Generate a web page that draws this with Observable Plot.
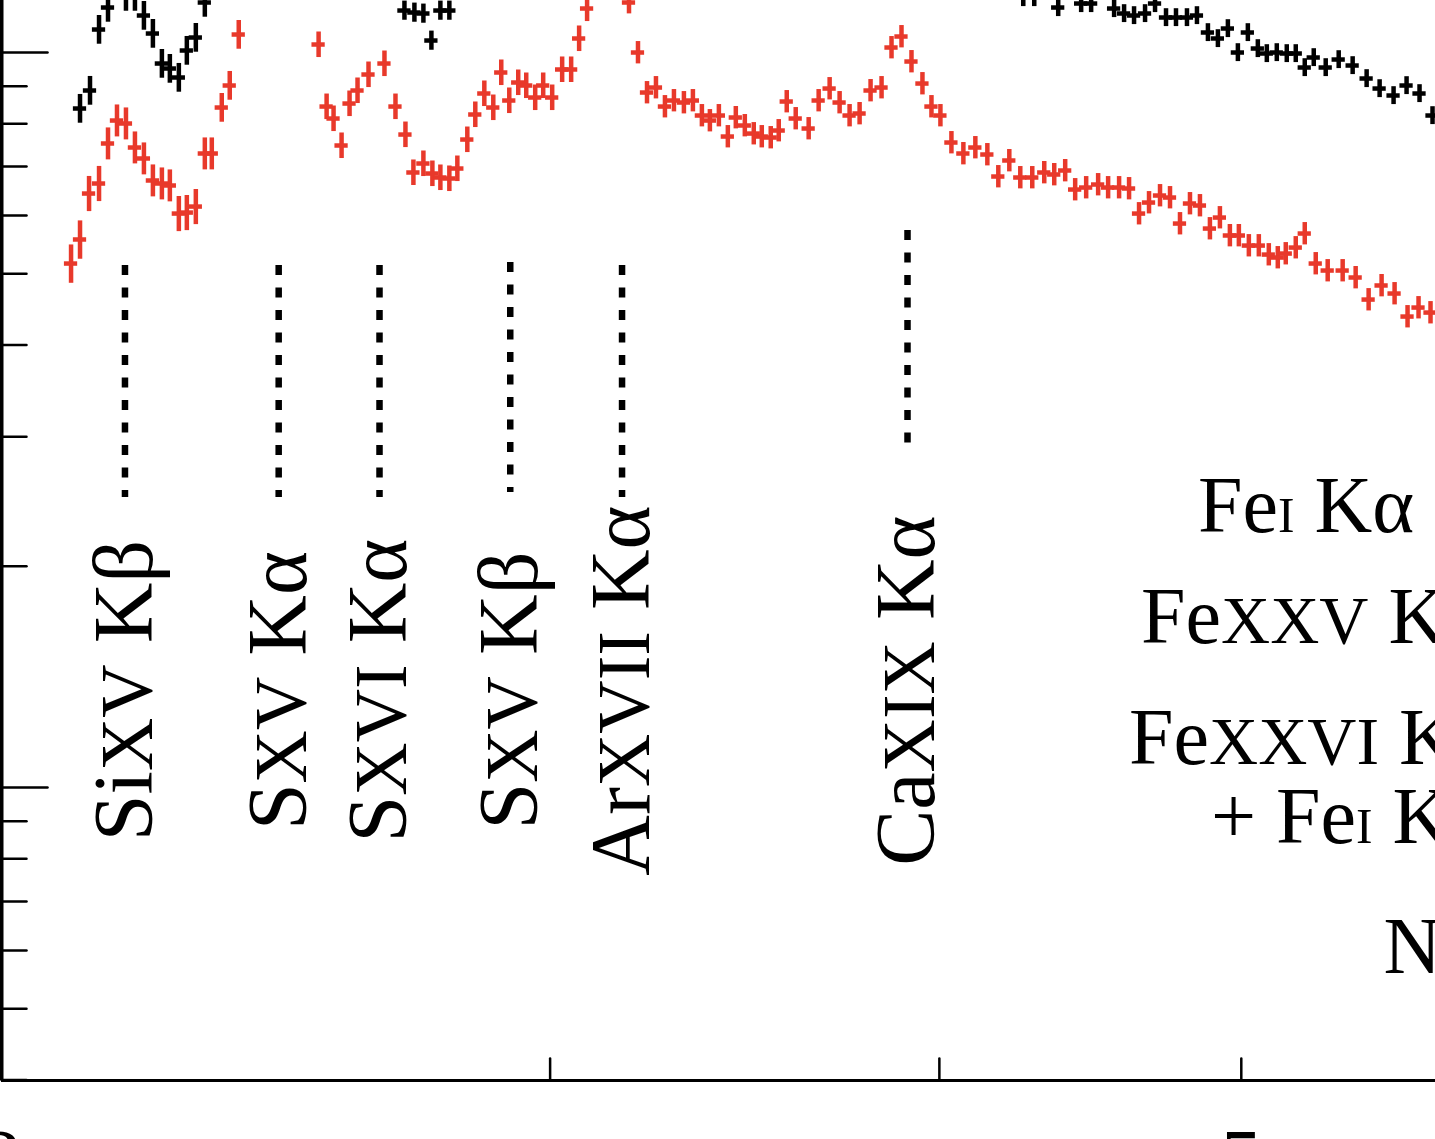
<!DOCTYPE html>
<html><head><meta charset="utf-8">
<script src="https://cdn.jsdelivr.net/npm/d3@7"></script>
<script src="https://cdn.jsdelivr.net/npm/@observablehq/plot@0.6"></script>
<style>
html,body{margin:0;padding:0;background:#fff;overflow:hidden}
#chart svg{display:block}
</style></head><body><div id="chart"></div>
<script>
// ---- data: energy (keV) and flux (arbitrary units, log axis) ----
const redEnergy=[2.1055,2.1195,2.1337,2.1495,2.1638,2.1782,2.1927,2.2073,2.2220,2.2368,
2.2517,2.2650,2.2801,2.2936,2.3089,2.3243,2.3363,2.3536,2.3675,2.3833,
2.5282,2.5432,2.5563,2.5715,2.5867,2.6020,2.6232,2.6543,2.6760,2.6958,
2.7117,2.7318,2.7500,2.7663,2.7847,2.8012,2.8219,2.8386,2.8576,2.8766,
2.8936,2.9108,2.9301,2.9475,2.9671,2.9847,3.0046,3.0268,3.0470,3.0650,
3.0831,3.1801,3.2013,3.2227,3.2441,3.2657,3.2875,3.3118,3.3339,3.3561,
3.3760,3.3985,3.4211,3.4413,3.4643,3.4873,3.5080,3.5313,3.5522,3.5733,
3.5971,3.6317,3.6586,3.6884,3.7157,3.7432,3.7710,3.8017,3.8327,3.8610,
3.8896,3.9184,3.9503,3.9767,4.0031,4.0358,4.0716,4.1078,4.1444,4.1781,
4.2122,4.2465,4.2843,4.3224,4.3544,4.3898,4.4223,4.4584,4.4980,4.5313,
4.5682,4.6020,4.6361,4.6704,4.7085,4.7434,4.7785,4.8139,4.8495,4.8854,
4.9216,4.9580,4.9910,5.0280,5.0652,5.1027,5.1367,5.1671,5.2054,5.2401,
5.2828,5.3297,5.3890,5.4410,5.4934,5.5463,5.5998,5.6537,5.6998,5.7505];
const redFlux=[5.163,5.567,6.429,6.634,7.520,8.081,8.006,7.426,7.175,6.697,
6.634,6.593,6.038,6.057,6.172,7.288,7.288,8.417,9.018,10.580,
10.254,8.443,8.132,7.473,8.523,8.878,9.334,9.661,8.443,7.734,
6.867,7.063,6.845,6.760,6.739,6.953,7.614,8.235,8.795,8.417,
9.393,8.604,9.103,9.018,8.685,9.018,8.685,9.482,9.482,10.449,
11.478,11.696,10.000,8.822,8.961,8.443,8.604,8.550,8.604,8.209,
8.081,8.209,7.686,8.158,7.956,7.758,7.686,7.662,7.832,8.577,
8.132,7.881,8.604,8.933,8.550,8.209,8.261,8.878,8.961,10.158,
10.514,9.722,9.074,8.443,8.209,7.543,7.288,7.426,7.265,6.781,
7.130,6.760,6.760,6.867,6.824,6.910,6.510,6.551,6.613,6.551,
6.551,6.531,6.038,6.250,6.389,6.349,5.852,6.231,6.192,5.761,
5.963,5.637,5.637,5.462,5.462,5.310,5.261,5.327,5.428,5.672,
5.163,5.051,5.051,4.942,4.612,4.820,4.700,4.373,4.498,4.428];
const redErr=[0.06,0.06,0.055,0.055,0.05,0.05,0.05,0.05,0.05,0.05,
0.05,0.05,0.055,0.055,0.055,0.05,0.05,0.045,0.045,0.045,
0.04,0.04,0.04,0.04,0.04,0.04,0.04,0.04,0.04,0.04,
0.04,0.04,0.04,0.04,0.04,0.04,0.04,0.04,0.04,0.04,
0.04,0.04,0.04,0.04,0.04,0.04,0.04,0.04,0.04,0.04,
0.04,0.035,0.035,0.035,0.035,0.035,0.035,0.035,0.035,0.035,
0.035,0.035,0.035,0.035,0.035,0.035,0.035,0.035,0.035,0.035,
0.035,0.035,0.035,0.035,0.035,0.035,0.035,0.035,0.035,0.035,
0.035,0.035,0.035,0.035,0.035,0.035,0.035,0.035,0.035,0.035,
0.035,0.035,0.035,0.035,0.035,0.035,0.035,0.035,0.035,0.035,
0.035,0.035,0.035,0.035,0.035,0.035,0.035,0.035,0.035,0.035,
0.035,0.035,0.035,0.035,0.035,0.035,0.035,0.035,0.035,0.035,
0.035,0.035,0.035,0.035,0.035,0.035,0.035,0.035,0.035,0.035];

const blackEnergy=[2.1195,2.1352,2.1495,2.1638,2.1927,2.2073,2.2220,2.2368,2.2517,2.2650,2.2801,2.2936,2.3089,2.3243,
2.6938,2.7137,2.7318,2.7480,2.7663,2.7847,
4.2559,4.2906,4.3672,4.4419,4.4748,4.5514,4.5851,4.6190,4.6567,4.6912,
4.7294,4.7644,4.8032,4.8388,4.8782,4.9143,4.9507,4.9874,5.0243,5.0615,
5.0952,5.1329,5.1709,5.2054,5.2401,5.2750,5.3219,5.3732,5.4289,5.4853,
5.5382,5.5956,5.6496,5.7040,5.7590];
const blackFlux=[8.391,8.878,10.747,11.514,11.917,11.917,11.229,10.613,9.661,9.511,9.247,10.063,10.481,11.696,
11.406,11.335,11.300,10.383,11.406,11.406,
11.880,11.880,11.514,11.659,11.659,11.478,11.300,11.229,11.300,11.659,
11.159,11.159,11.159,11.229,10.647,10.449,10.781,10.000,10.647,10.126,
9.969,10.000,9.969,9.969,9.541,9.845,9.541,9.783,9.601,9.218,
8.933,8.740,9.018,8.795,8.209];
const blackErr=[0.045,0.045,0.045,0.045,0.045,0.045,0.045,0.045,0.045,0.045,0.045,0.045,0.045,0.045,
0.03,0.03,0.03,0.03,0.03,0.03,
0.028,0.028,0.028,0.028,0.028,0.028,0.028,0.028,0.028,0.028,
0.028,0.028,0.028,0.028,0.028,0.028,0.028,0.028,0.028,0.028,
0.028,0.028,0.028,0.028,0.028,0.028,0.028,0.028,0.028,0.028,
0.028,0.028,0.028,0.028,0.028];
const binHalfWidth=0.0049; // fractional half-width of each energy bin

// emission-line markers
const lineEnergy=[2.1911,2.4547,2.6446,2.9129,3.1638,3.9069];
const lineTop=[5.131,5.131,5.131,5.179,5.131,5.727];
const lineBottom=[2.481,2.481,2.481,2.520,2.481,2.919];
const lineElement=["Si","S","S","S","Ar","Ca"];
const lineStage=["XV","XV","XVI","XV","XVII","XIX"];
const lineTransition=["Kβ","Kα","Kα","Kβ","Kα","Kα"];
const lineLabelFlux=1.355;

// iron / nickel labels (their lines lie beyond the right edge)
const feLabelEnergy=[4.8423,4.6430,4.6020,4.8890,5.5545];
const feLabelFlux=[2.2233,1.5703,1.0781,0.8417,0.5602];
const feLabelPrefix=["","","","+ ",""];
const feLabelElement=["Fe","Fe","Fe","Fe","Ni"];
const feLabelStage=["I","XXV","XXVI","I","I"];
const feLabelTransition=["Kα","Kα","Kα","Kβ","Kα"];

// axes
const xDomain=[2,5.7717];
const yDomain=[0.3994,11.77];
const xTicks=[3,4,5];
const xTickLabelValues=[2,5];
const xTickLabels=["2","5"];
const yMajorTicks=[1,10];
const yMinorTicks=[0.4,0.5,0.6,0.7,0.8,0.9,2,3,4,5,6,7,8,9];

// ---- build tables ----
const red=redEnergy.map((E,i)=>({E,f:redFlux[i],e:redErr[i]}));
const black=blackEnergy.map((E,i)=>({E,f:blackFlux[i],e:blackErr[i]}));
const lines=lineEnergy.map((E,i)=>({E,top:lineTop[i],bottom:lineBottom[i],
  pre:"",el:lineElement[i],stage:lineStage[i],tr:lineTransition[i],scale:0.88,
  text:lineElement[i]+lineStage[i]+" "+lineTransition[i],y:lineLabelFlux}));
const feLabels=feLabelEnergy.map((E,i)=>({E,f:feLabelFlux[i],pre:feLabelPrefix[i],
  el:feLabelElement[i],stage:feLabelStage[i],tr:feLabelTransition[i],
  scale:feLabelStage[i]==="I"?0.62:0.85,
  text:feLabelPrefix[i]+feLabelElement[i]+feLabelStage[i]+" "+feLabelTransition[i]}));
const xLabels=xTickLabelValues.map((x,i)=>({x,label:xTickLabels[i]}));

const RED="#e8392b";
const tickShape={draw(ctx,l){ctx.moveTo(0,0);ctx.lineTo(0,-l);}};

function crosses(data,color){
  return [
    Plot.ruleX(data,{x:"E",y1:d=>d.f*(1-d.e),y2:d=>d.f*(1+d.e),stroke:color,strokeWidth:4.5,clip:true}),
    Plot.ruleY(data,{y:"f",x1:d=>d.E*(1-binHalfWidth),x2:d=>d.E*(1+binHalfWidth),stroke:color,strokeWidth:4.5,clip:true})
  ];
}

const chart=Plot.plot({
  width:1435,height:1139,
  marginLeft:1,marginRight:0,marginTop:0,marginBottom:59,
  style:{fontFamily:"'Liberation Serif','Times New Roman',serif",background:"white",overflow:"hidden"},
  x:{type:"log",domain:xDomain,axis:null},
  y:{type:"log",domain:yDomain,axis:null},
  marks:[
    ...crosses(red,RED),
    ...crosses(black,"black"),
    Plot.ruleX(lines,{x:"E",y1:"top",y2:"bottom",stroke:"black",strokeWidth:6.5,strokeDasharray:"10,12.5"}),
    Plot.text(lines,{x:"E",y:"y",text:"text",rotate:-90,fontSize:84,textAnchor:"middle",lineAnchor:"middle",fill:"black"}),
    Plot.text(feLabels,{x:"E",y:"f",text:"text",fontSize:80,textAnchor:"start",lineAnchor:"bottom",fill:"black"}),
    // axes
    Plot.vector(yMinorTicks,{y:d=>d,frameAnchor:"left",length:25,rotate:90,anchor:"start",shape:tickShape,stroke:"black",strokeWidth:2.5}),
    Plot.vector(yMajorTicks,{y:d=>d,frameAnchor:"left",length:46,rotate:90,anchor:"start",shape:tickShape,stroke:"black",strokeWidth:2.5}),
    Plot.vector(xTicks,{x:d=>d,frameAnchor:"bottom",length:22,rotate:0,anchor:"start",shape:tickShape,stroke:"black",strokeWidth:2.5}),
    Plot.ruleX([xDomain[0]],{stroke:"black",strokeWidth:4}),
    Plot.ruleY([yDomain[0]],{stroke:"black",strokeWidth:3}),
    Plot.text(xLabels,{x:"x",frameAnchor:"bottom",text:"label",dy:48,lineAnchor:"top",fontSize:84,fill:"black"})
  ]
});
document.getElementById("chart").appendChild(chart);

// small-capital ionisation stages: rebuild matching text nodes with tspans
const byText=new Map([...lines,...feLabels].map(d=>[d.text,d]));
chart.querySelectorAll("text").forEach(node=>{
  const d=byText.get(node.textContent);
  if(!d) return;
  const t=d3.select(node); t.text(null);
  if(d.pre) t.append("tspan").text(d.pre);
  t.append("tspan").text(d.el);
  t.append("tspan").attr("font-size",(d.scale*100)+"%").text(d.stage);
  t.append("tspan").text(" "+d.tr);
});
</script></body></html>
